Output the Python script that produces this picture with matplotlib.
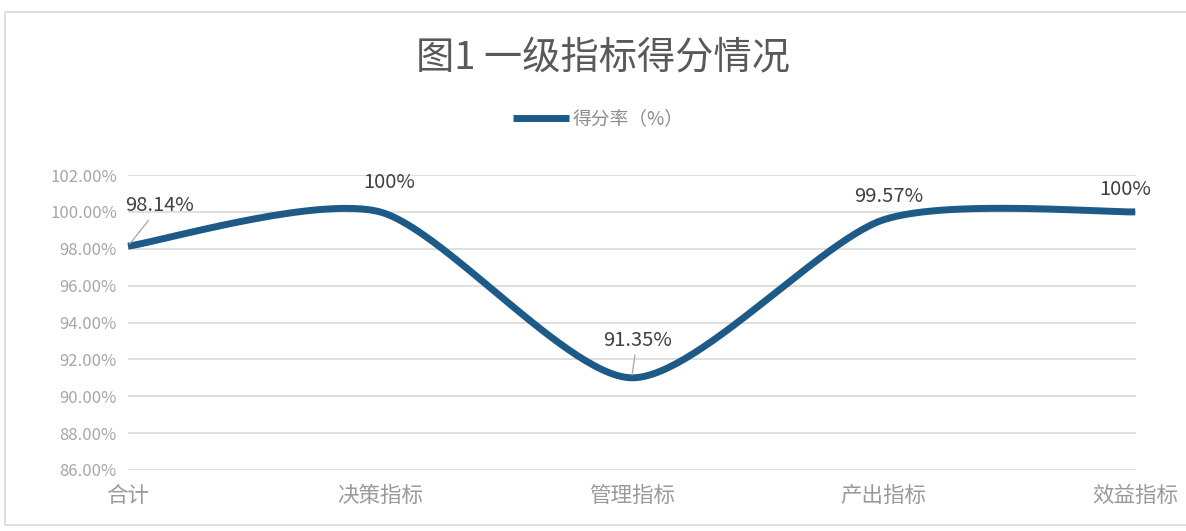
import numpy as np
import matplotlib
matplotlib.use("Agg")
import matplotlib.pyplot as plt
from matplotlib.patches import Rectangle

plt.rcParams['font.family'] = ['Noto Sans CJK SC', 'DejaVu Sans']

# data
categories = ['合计', '决策指标', '管理指标', '产出指标', '效益指标']
scores = [98.14, 100.0, 91.0, 99.57, 100.0]          # where the line sits
point_labels = ['98.14%', '100%', '91.35%', '99.57%', '100%']
y_ticks = [86, 88, 90, 92, 94, 96, 98, 100, 102]

title = '图1 一级指标得分情况'
series_name = '得分率（%）'

LINE_COLOR = '#1d5a88'


def smooth_curve(xs, ys, f=1 / 8, n=60):
    """Bezier smoothing close to Excel's smoothed line"""
    xs = np.asarray(xs, float)
    ys = np.asarray(ys, float)
    px = np.concatenate([[xs[0]], xs, [xs[-1]]])
    py = np.concatenate([[ys[0]], ys, [ys[-1]]])
    out_x, out_y = [], []
    for i in range(1, len(px) - 2):
        p0x, p1x, p2x, p3x = px[i - 1], px[i], px[i + 1], px[i + 2]
        p0y, p1y, p2y, p3y = py[i - 1], py[i], py[i + 1], py[i + 2]
        c1x, c1y = p1x + (p2x - p0x) * f, p1y + (p2y - p0y) * f
        c2x, c2y = p2x - (p3x - p1x) * f, p2y - (p3y - p1y) * f
        t = np.linspace(0, 1, n)
        b0, b1, b2, b3 = (1 - t) ** 3, 3 * t * (1 - t) ** 2, 3 * t ** 2 * (1 - t), t ** 3
        out_x.append(b0 * p1x + b1 * c1x + b2 * c2x + b3 * p2x)
        out_y.append(b0 * p1y + b1 * c1y + b2 * c2y + b3 * p2y)
    return np.concatenate(out_x), np.concatenate(out_y)


fig = plt.figure(figsize=(11.86, 5.31), dpi=100)
fig.patches.append(Rectangle((5 / 1186, 6 / 531), 1.0, 513 / 531, transform=fig.transFigure,
                             fill=False, edgecolor='#d9d9d9', linewidth=1.2))

ax = fig.add_axes([128 / 1186, 61 / 531, (1136 - 128) / 1186, (470 - 175) / 531])
x = np.arange(len(categories))
sx, sy = smooth_curve(x, scores)
line, = ax.plot(sx, sy, color=LINE_COLOR, lw=5, solid_capstyle='butt',
                clip_on=False, zorder=3, label=series_name)

ax.set_xlim(0, len(categories) - 1 + 0.003)
ax.set_ylim(86, 102)
ax.set_yticks(y_ticks)
ax.set_yticklabels([f'{v:.2f}%' for v in y_ticks])
ax.set_xticks(x)
ax.set_xticklabels(categories)
ax.grid(axis='y', color='#d9d9d9', lw=1.2)
ax.set_axisbelow(True)
for s in ax.spines.values():
    s.set_visible(False)
ax.tick_params(axis='y', length=0, pad=8, labelsize=12, labelcolor='#a6a6a6')
ax.tick_params(axis='x', length=0, pad=11, labelsize=15.5, labelcolor='#9a9a9a')

# data labels (offsets in points), leader lines on two of them
offsets = [(23, 29), (7, 21), (4, 27), (4, 17), (-7, 16)]
leaders = [True, False, True, False, False]
for i, (lab, off, lead) in enumerate(zip(point_labels, offsets, leaders)):
    kw = {}
    if lead:
        kw['arrowprops'] = dict(arrowstyle='-', color='#a6a6a6', lw=0.9,
                                shrinkA=1, shrinkB=2)
    ax.annotate(lab, (x[i], scores[i]), xytext=off, textcoords='offset points',
                ha='center', va='center', fontsize=14.5, color='#404040',
                zorder=5, **kw)

fig.text(603 / 1186, 1 - 58 / 531, title, ha='center', va='center',
         fontsize=27.5, color='#595959')
fig.legend(handles=[line], loc='center', bbox_to_anchor=(598 / 1186, 1 - 119 / 531),
           frameon=False, fontsize=13.5, labelcolor='#8c8c8c', handlelength=3.0,
           handletextpad=0.2)

fig.savefig('out.png', dpi=100)
